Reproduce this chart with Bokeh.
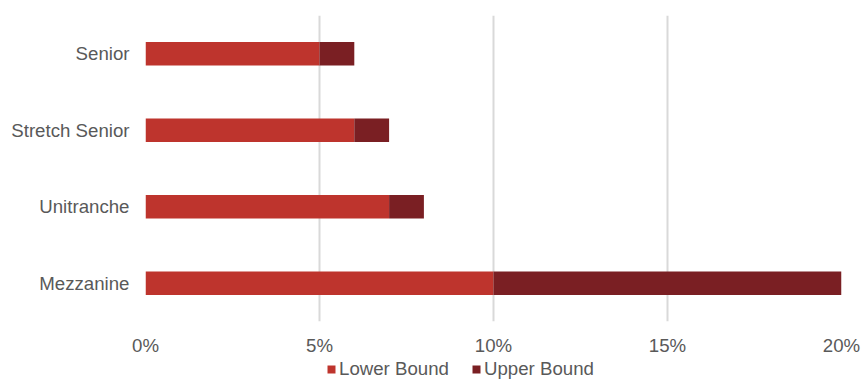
from bokeh.plotting import figure
from bokeh.layouts import column
from bokeh.models import ColumnDataSource, FactorRange, Range1d, Legend, LegendItem, FixedTicker, CustomJSTickFormatter
from bokeh.embed import file_html
from bokeh.resources import INLINE

categories = ["Senior", "Stretch Senior", "Unitranche", "Mezzanine"]
lower_bound = [5, 6, 7, 10]
upper_extra = [1, 1, 1, 10]
x_ticks = [0, 5, 10, 15, 20]
series_names = ["Lower Bound", "Upper Bound"]
series_colors = ["#BE342D", "#7A1F23"]

source = ColumnDataSource(dict(cat=categories, lower=lower_bound, upper=upper_extra))

FONT = "Liberation Sans"
FSIZE = "18.67px"
GREY = "#595959"

p = figure(width=862, height=358, output_backend="svg", toolbar_location=None,
           y_range=FactorRange(factors=list(reversed(categories))),
           x_range=Range1d(0, 20),
           min_border_left=145, min_border_right=21, min_border_top=15, min_border_bottom=36)
p.outline_line_color = None
p.background_fill_color = "white"
p.border_fill_color = "white"

r = p.hbar_stack(["lower", "upper"], y="cat", height=0.31, source=source,
                 color=series_colors, line_color=None)

p.xaxis.ticker = FixedTicker(ticks=x_ticks)
p.xaxis.formatter = CustomJSTickFormatter(code="return tick + '%';")
for ax in (p.xaxis[0], p.yaxis[0]):
    ax.axis_line_color = None
    ax.major_tick_line_color = None
    ax.minor_tick_line_color = None
    ax.major_tick_out = 0
    ax.major_tick_in = 0
    ax.major_label_text_font = FONT
    ax.major_label_text_font_size = FSIZE
    ax.major_label_text_color = GREY
p.xaxis.major_label_standoff = 13
p.yaxis.major_label_standoff = 16

p.ygrid.grid_line_color = None
p.xgrid.grid_line_color = "#D9D9D9"
p.xgrid.grid_line_width = 2

# legend strip
lg = figure(width=862, height=22, output_backend="svg", toolbar_location=None,
            x_range=Range1d(0, 1), y_range=Range1d(0, 1),
            min_border=0, min_border_left=0, min_border_right=0, min_border_top=0, min_border_bottom=0)
lg.axis.visible = False
lg.grid.visible = False
lg.outline_line_color = None
lg.border_fill_color = "white"
offscreen = ColumnDataSource(dict(l=[5], r=[6], b=[5], t=[6]))
dummies = [lg.quad(left="l", right="r", bottom="b", top="t", source=offscreen, color=c, line_color=None)
           for c in series_colors]
legend = Legend(items=[LegendItem(label=n, renderers=[d]) for n, d in zip(series_names, dummies)],
                orientation="horizontal", location=(181, 0),
                label_text_font=FONT, label_text_font_size=FSIZE, label_text_color=GREY,
                glyph_width=10, glyph_height=10, label_standoff=3, spacing=22,
                padding=0, margin=0, border_line_color=None, background_fill_alpha=0)
lg.add_layout(legend, "center")

layout = column(p, lg, spacing=0)
open("out.html", "w").write(file_html(layout, INLINE))
